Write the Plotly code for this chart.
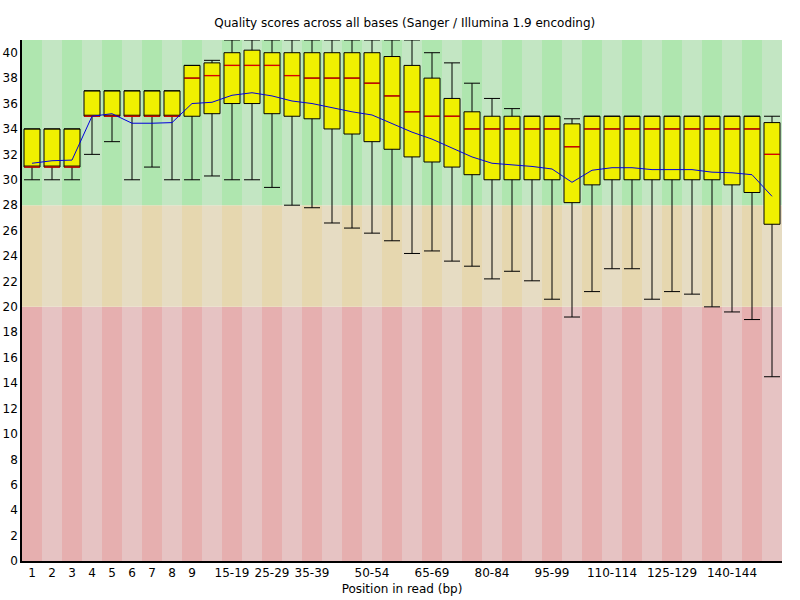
import plotly.graph_objects as go

# Position groups along the read
positions = ["1", "2", "3", "4", "5", "6", "7", "8", "9",
             "10-14", "15-19", "20-24", "25-29", "30-34", "35-39", "40-44", "45-49",
             "50-54", "55-59", "60-64", "65-69", "70-74", "75-79", "80-84", "85-89",
             "90-94", "95-99", "100-104", "105-109", "110-114", "115-119", "120-124",
             "125-129", "130-134", "135-139", "140-144", "145-149", "150-151"]

q1 = [31, 31, 31, 35, 35, 35, 35, 35, 35,
      35.2, 36, 36, 35.2, 35, 34.8, 34, 33.6, 33, 32.4, 31.8, 31.4, 31, 30.4,
      30, 30, 30, 30, 28.2, 29.6, 30, 30, 30, 30, 30, 30, 29.6, 29, 26.5]
median = [31, 31, 31, 35, 35, 35, 35, 35, 38,
          38.2, 39, 39, 39, 38.2, 38, 38, 38, 37.6, 36.6, 35.35, 35, 35, 34,
          34, 34, 34, 34, 32.6, 34, 34, 34, 34, 34, 34, 34, 34, 34, 32]
q3 = [34, 34, 34, 37, 37, 37, 37, 37, 39,
      39.2, 40, 40.2, 40, 40, 40, 40, 40, 40, 39.7, 39, 38, 36.4, 35.35,
      35, 35, 35, 35, 34.4, 35, 35, 35, 35, 35, 35, 35, 35, 35, 34.5]
lower = [30, 30, 30, 32, 33, 30, 31, 30, 30,
         30.3, 30, 30, 29.4, 28, 27.8, 26.6, 26.2, 25.8, 25.2, 24.2, 24.4, 23.6, 23.2,
         22.2, 22.8, 22.05, 20.6, 19.2, 21.2, 23, 23, 20.6, 21.2, 21, 20, 19.6, 19, 14.5]
upper = [34, 34, 34, 37, 37, 37, 37, 37, 39,
         39.4, 41, 41, 41, 41, 41, 41, 41, 41, 41, 41, 40, 39.2, 37.6,
         36.4, 35.6, 35, 35, 34.8, 35, 35, 35, 35, 35, 35, 35, 35, 35, 35]
mean = [31.3, 31.5, 31.55, 35.0, 35.2, 34.45, 34.45, 34.5, 36.0,
        36.1, 36.65, 36.85, 36.6, 36.2, 36.0, 35.65, 35.35, 35.1, 34.45, 33.75, 33.2, 32.5, 31.8,
        31.3, 31.2, 31.05, 30.85, 29.8, 30.75, 30.95, 30.95, 30.8, 30.8, 30.8, 30.6, 30.55, 30.4, 28.7]

shown_labels = ["1", "2", "3", "4", "5", "6", "7", "8", "9", "15-19", "25-29", "35-39",
                "50-54", "65-69", "80-84", "95-99", "110-114", "125-129", "140-144"]

y_ticks = list(range(0, 41, 2))

# background bands: (low, high, light colour, dark colour)
bands = [(0, 20, "rgb(230,195,195)", "rgb(230,175,175)"),
         (20, 28, "rgb(230,220,195)", "rgb(230,215,175)"),
         (28, 41, "rgb(195,230,195)", "rgb(175,230,175)")]

n = len(positions)
idx = list(range(n))

fig = go.Figure()

shapes = []
for i in idx:
    for lo, hi, light, dark in bands:
        shapes.append(dict(type="rect", xref="x", yref="y",
                           x0=i - 0.5, x1=i + 0.5, y0=lo, y1=hi,
                           fillcolor=dark if i % 2 == 0 else light,
                           line=dict(width=0), layer="below"))

fig.add_trace(go.Box(
    x=idx, q1=q1, median=median, q3=q3,
    lowerfence=lower, upperfence=upper,
    width=0.8, whiskerwidth=1,
    fillcolor="rgb(240,240,0)",
    line=dict(color="black", width=1),
    showlegend=False, hoverinfo="skip"
))

# red median ticks
fig.add_trace(go.Scatter(
    x=idx, y=median, mode="markers",
    marker=dict(symbol="line-ew", size=11, line=dict(color="rgb(220,0,0)", width=1.3)),
    showlegend=False, hoverinfo="skip"
))

# blue mean line
fig.add_trace(go.Scatter(
    x=idx, y=mean, mode="lines",
    line=dict(color="rgb(0,0,220)", width=1),
    showlegend=False, hoverinfo="skip"
))

fig.update_layout(
    width=800, height=600,
    paper_bgcolor="white", plot_bgcolor="white",
    margin=dict(l=22, r=18, t=40, b=39),
    shapes=shapes,
    font=dict(family="DejaVu Sans", size=12, color="black"),
    title=dict(text="Quality scores across all bases (Sanger / Illumina 1.9 encoding)",
               x=0.506, xanchor="center", y=0.962, yanchor="middle",
               font=dict(size=12)),
    showlegend=False
)

fig.update_xaxes(
    range=[-0.5, n - 0.5],
    tickmode="array",
    tickvals=[positions.index(s) for s in shown_labels],
    ticktext=shown_labels,
    ticks="", showgrid=False, zeroline=False,
    showline=True, linecolor="black", linewidth=1.5,
    title=dict(text="Position in read (bp)", standoff=5, font=dict(size=12)),
    tickfont=dict(size=12), automargin=False
)
fig.update_yaxes(
    range=[0, 41],
    tickmode="array", tickvals=y_ticks,
    ticks="", showgrid=False, zeroline=False,
    showline=True, linecolor="black", linewidth=1.5,
    tickfont=dict(size=12), automargin=False
)

# drop the default 8px body margin so the chart sits at the window corner
fig.write_html("out.html", config={"displayModeBar": False},
               post_script="document.body.style.margin='0';")
